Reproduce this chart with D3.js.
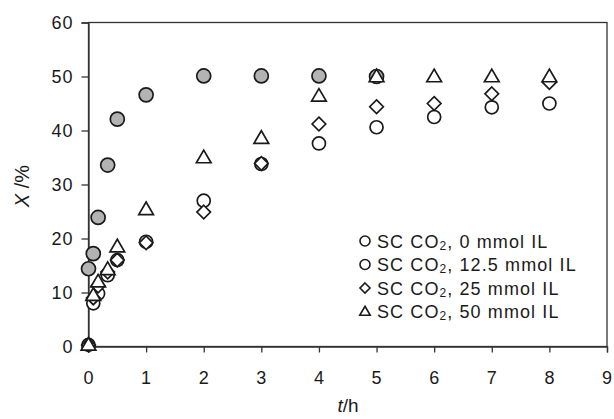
<!DOCTYPE html>
<html><head><meta charset="utf-8">
<script src="https://cdn.jsdelivr.net/npm/d3@7"></script>
<style>body{margin:0;background:#fff}svg{display:block}text{font-family:"Liberation Sans",Arial,sans-serif;fill:#1a1a1a}</style>
</head><body><svg id="c" width="614" height="419"></svg>
<script>
const timesShort = [0, 0.083, 0.167, 0.333, 0.5, 1, 2, 3, 4, 5];
const times = [0, 0.083, 0.167, 0.333, 0.5, 1, 2, 3, 4, 5, 6, 7, 8];
const grayCircle = [14.4, 17.2, 23.9, 33.6, 42.1, 46.6, 50.1, 50.1, 50.1, 50.0];
const openCircle = [0.3, 8.0, 9.8, 13.2, 16.0, 19.4, 27.0, 33.8, 37.6, 40.6, 42.5, 44.3, 45.0];
const diamond = [0.3, 9.0, 11.2, 13.8, 16.0, 19.2, 24.9, 33.9, 41.2, 44.4, 45.0, 46.8, 48.9];
const triangle = [0.3, 9.5, 12.0, 14.3, 18.5, 25.4, 35.0, 38.6, 46.4, 50.0, 50.0, 50.0, 50.0];
const xTicks = [0,1,2,3,4,5,6,7,8,9];
const yTicks = [0,10,20,30,40,50,60];
const legendLabels = ["0 mmol IL", "12.5 mmol IL", "25 mmol IL", "50 mmol IL"];
const legendShapes = ["circle", "circle", "diamond", "triangle"];

const svg = d3.select("#c");
const x = d3.scaleLinear().domain([0, 9]).range([88.5, 607]);
const y = d3.scaleLinear().domain([0, 60]).range([346.5, 22.5]);

svg.append("rect").attr("x", x(0)).attr("y", y(60)).attr("width", x(9)-x(0)).attr("height", y(0)-y(60))
  .attr("fill","none").attr("stroke","#333").attr("stroke-width",1.3);

const xAxis = svg.append("g").attr("transform",`translate(0,${y(0)})`)
  .call(d3.axisBottom(x).tickValues(xTicks).tickSize(6).tickPadding(19).tickFormat(d3.format("d")));
const yAxis = svg.append("g").attr("transform",`translate(${x(0)},0)`)
  .call(d3.axisLeft(y).tickValues(yTicks).tickSize(7).tickPadding(8).tickFormat(d3.format("d")));
[xAxis, yAxis].forEach(a => {
  a.select(".domain").attr("stroke","#333").attr("stroke-width",1.3);
  a.selectAll(".tick line").attr("stroke","#333").attr("stroke-width",1.3);
  a.selectAll("text").attr("font-size",18).attr("letter-spacing",1).attr("fill","#1a1a1a")
    .attr("font-family","Liberation Sans, Arial, sans-serif");
});

function shapePath(type, s) {
  if (type === "diamond") return `M0,${-s}L${s},0L0,${s}L${-s},0Z`;
  if (type === "triangle") return `M0,${-s*1.05}L${s*1.05},${s*0.75}L${-s*1.05},${s*0.75}Z`;
  return d3.symbol(d3.symbolCircle, Math.PI*s*s)();
}

const plot = svg.append("g");
function drawSeries(ts, vs, type, fill, s) {
  plot.append("g").selectAll("path").data(vs).join("path")
    .attr("d", shapePath(type, s))
    .attr("transform", (d,i) => `translate(${x(ts[i])},${y(d)})`)
    .attr("fill", fill).attr("stroke", "#1a1a1a").attr("stroke-width", 1.7);
}
drawSeries(timesShort, grayCircle, "circle", "#b3b3b3", 7);
drawSeries(times, openCircle, "circle", "#fff", 6.5);
drawSeries(times, diamond, "diamond", "#fff", 6.8);
drawSeries(times, triangle, "triangle", "#fff", 7);

const lg = svg.append("g");
legendLabels.forEach((lab, i) => {
  const yy = 241 + i*23.5;
  lg.append("path").attr("d", shapePath(legendShapes[i], 5))
    .attr("transform", `translate(365,${yy})`).attr("fill","#fff").attr("stroke","#1a1a1a").attr("stroke-width",1.6);
  const t = lg.append("text").attr("x", 377).attr("y", yy + 6.5).attr("font-size", 18).attr("letter-spacing", 1.1);
  t.append("tspan").text("SC CO");
  t.append("tspan").text("2").attr("font-size", 12).attr("dy", 2);
  t.append("tspan").text(", " + lab).attr("dy", -2);
});

const xt = svg.append("text").attr("x", 348).attr("y", 412).attr("text-anchor","middle").attr("font-size",19);
xt.append("tspan").text("t").attr("font-style","italic");
xt.append("tspan").text("/h");
const yt = svg.append("text").attr("transform","translate(29,186) rotate(-90)").attr("text-anchor","middle").attr("font-size",20);
yt.append("tspan").text("X").attr("font-style","italic");
yt.append("tspan").text(" /%");
</script></body></html>
